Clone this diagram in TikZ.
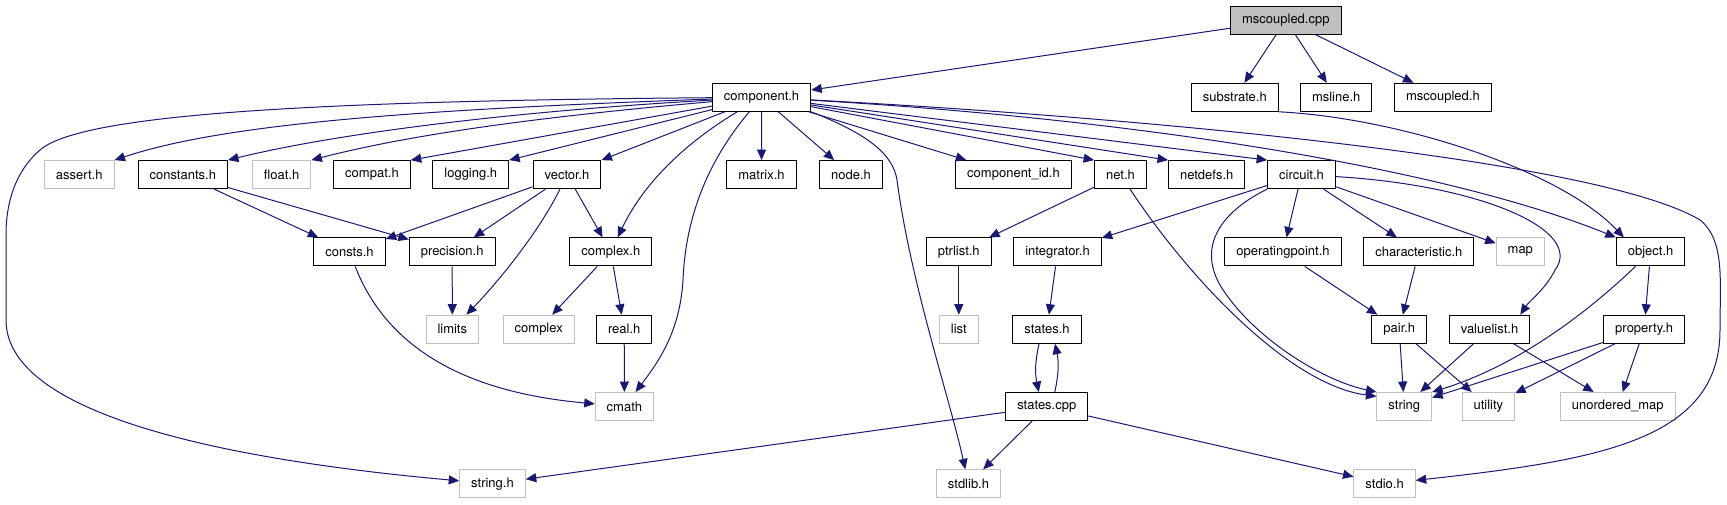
\documentclass[tikz,border=0pt]{standalone}
\usepackage{fontspec}
\setmainfont{TeX Gyre Heros}
\usetikzlibrary{arrows.meta}
\definecolor{edgeblue}{HTML}{191970}
\definecolor{greyline}{HTML}{BFBFBF}
\tikzset{
  docbox/.style={draw=black, fill=white, line width=1pt, inner xsep=11.5pt, inner ysep=0pt, minimum height=28pt, font=\fontsize{13}{15}\selectfont},
  extbox/.style={docbox, draw=greyline},
  rootbox/.style={docbox, fill=greyline},
  incl/.style={-{Triangle[length=10.5pt, width=9pt]}, color=edgeblue, line width=1pt}
}

\begin{document}
\begin{tikzpicture}[x=1pt, y=-1pt]
\useasboundingbox (0,0) rectangle (1727,504);
\node[rootbox] (mscpp) at (1285.8,20) {mscoupled.cpp};
\node[docbox] (comp) at (761.6,97.3) {component.h};
\node[docbox] (substrate) at (1234.8,97.3) {substrate.h};
\node[docbox] (msline) at (1336.2,97.3) {msline.h};
\node[docbox] (msch) at (1442.9,97.3) {mscoupled.h};
\node[extbox] (assert) at (79.2,174.6) {assert.h};
\node[docbox] (constants) at (182.8,174.6) {constants.h};
\node[extbox] (floath) at (281.7,174.6) {float.h};
\node[docbox] (compat) at (372,174.6) {compat.h};
\node[docbox] (logging) at (470.8,174.6) {logging.h};
\node[docbox] (vector) at (567,174.6) {vector.h};
\node[docbox] (matrix) at (761.5,174.6) {matrix.h};
\node[docbox] (nodeh) at (851,174.6) {node.h};
\node[docbox] (compid) at (1013.5,174.6) {component\_id.h};
\node[docbox] (net) at (1120.5,174.6) {net.h};
\node[docbox] (netdefs) at (1206.7,174.6) {netdefs.h};
\node[docbox] (circuit) at (1301.5,174.6) {circuit.h};
\node[docbox] (consts) at (349.5,251.9) {consts.h};
\node[docbox] (precision) at (452.2,251.9) {precision.h};
\node[docbox] (complexh) at (610.8,251.9) {complex.h};
\node[docbox] (ptrlist) at (958.8,251.9) {ptrlist.h};
\node[docbox] (integrator) at (1057.5,251.9) {integrator.h};
\node[docbox] (oppoint) at (1283,251.9) {operatingpoint.h};
\node[docbox] (character) at (1418.8,251.9) {characteristic.h};
\node[extbox] (map) at (1520.3,251.9) {map};
\node[docbox] (object) at (1650.6,251.9) {object.h};
\node[extbox] (limits) at (452.3,329.2) {limits};
\node[extbox] (complex) at (538.7,329.2) {complex};
\node[docbox] (real) at (624.2,329.2) {real.h};
\node[extbox] (list) at (958.8,329.2) {list};
\node[docbox] (states) at (1047,329.2) {states.h};
\node[docbox] (pair) at (1399.2,329.2) {pair.h};
\node[docbox] (valuelist) at (1489.5,329.2) {valuelist.h};
\node[docbox] (property) at (1644.2,329.2) {property.h};
\node[extbox] (cmath) at (624.4,406.5) {cmath};
\node[docbox] (statescpp) at (1046.8,406.5) {states.cpp};
\node[extbox] (string) at (1404.3,406.5) {string};
\node[extbox] (utility) at (1488.4,406.5) {utility};
\node[extbox] (umap) at (1617.7,406.5) {unordered\_map};
\node[extbox] (strh) at (492.5,483.8) {string.h};
\node[extbox] (stdlib) at (968.5,483.8) {stdlib.h};
\node[extbox] (stdio) at (1384.6,483.8) {stdio.h};
\draw[incl] (mscpp) -- (comp);
\draw[incl] (mscpp) -- (substrate);
\draw[incl] (mscpp) -- (msline);
\draw[incl] (mscpp) -- (msch);
\draw[incl] (comp) .. controls (300,101) and (80,115) .. (40,150) .. controls (20,167) and (6,195) .. (6,235) -- (6,320) .. controls (6,420) and (250,462) .. (strh);
\draw[incl] (comp) .. controls (400,110) and (220,125) .. (assert.north east);
\draw[incl] (comp) .. controls (500,112) and (330,135) .. (constants.north east);
\draw[incl] (comp) .. controls (560,115) and (420,132) .. (floath.north east);
\draw[incl] (comp) -- (compat.north east);
\draw[incl] (comp) -- (logging.north east);
\draw[incl] (comp) -- (vector.north east);
\draw[incl] (comp) .. controls (690,140) and (645,180) .. (complexh);
\draw[incl] (comp) .. controls (700,170) and (685,230) .. (683,280) .. controls (680,330) and (660,360) .. (cmath);
\draw[incl] (comp) -- (matrix);
\draw[incl] (comp) -- (nodeh);
\draw[incl] (comp.south east) .. controls (870,135) and (893,155) .. (897,180) .. controls (910,280) and (950,400) .. (stdlib);
\draw[incl] (comp) -- (compid);
\draw[incl] (comp) -- (net.north west);
\draw[incl] (comp) -- (netdefs.north west);
\draw[incl] (comp) -- (circuit.north west);
\draw[incl] (comp) .. controls (1150,120) and (1450,170) .. (object.north west);
\draw[incl] (comp) .. controls (1150,118) and (1600,160) .. (1700,220) .. controls (1725,240) and (1720,280) .. (1720,330) .. controls (1720,440) and (1600,460) .. (stdio);
\draw[incl] (substrate.south east) .. controls (1400,118) and (1560,170) .. ([xshift=8pt]object.north west);
\draw[incl] (constants) -- (consts);
\draw[incl] (constants) -- (precision);
\draw[incl] (vector) -- (consts);
\draw[incl] (vector) -- (precision);
\draw[incl] (vector) .. controls (540,230) and (500,280) .. (limits);
\draw[incl] (vector) -- (complexh);
\draw[incl] (precision) -- (limits);
\draw[incl] (consts) .. controls (380,330) and (440,390) .. (cmath);
\draw[incl] (complexh) -- (complex);
\draw[incl] (complexh) -- (real);
\draw[incl] (real) -- (cmath);
\draw[incl] (net) -- (ptrlist);
\draw[incl] (net) .. controls (1190,280) and (1290,385) .. (string.160);
\draw[incl] (ptrlist) -- (list);
\draw[incl] (circuit) -- (integrator);
\draw[incl] (circuit.south west) .. controls (1215,215) and (1200,250) .. (1220,285) .. controls (1250,335) and (1320,380) .. (string.north west);
\draw[incl] (circuit) -- (oppoint);
\draw[incl] (circuit) -- (character);
\draw[incl] (circuit) -- (map);
\draw[incl] (circuit) .. controls (1480,185) and (1585,230) .. (1555,270) .. controls (1545,290) and (1530,300) .. ([xshift=-10pt]valuelist.north east);
\draw[incl] (integrator) -- (states);
\draw[incl] ([xshift=-8pt]states.south) to[bend right=12] ([xshift=-8pt]statescpp.north);
\draw[incl] ([xshift=8pt]statescpp.north) to[bend right=12] ([xshift=8pt]states.south);
\draw[incl] (statescpp) -- (strh);
\draw[incl] (statescpp) -- (stdlib);
\draw[incl] (statescpp) -- (stdio);
\draw[incl] (oppoint) -- (pair);
\draw[incl] (character) -- (pair);
\draw[incl] (pair) -- (string);
\draw[incl] (pair) -- (utility);
\draw[incl] (valuelist) -- (string);
\draw[incl] (valuelist) -- (umap);
\draw[incl] (object) .. controls (1590,310) and (1520,365) .. (string.north east);
\draw[incl] (object) -- (property);
\draw[incl] (property) -- (string);
\draw[incl] (property) -- (utility);
\draw[incl] (property) -- (umap);
\end{tikzpicture}
\end{document}
